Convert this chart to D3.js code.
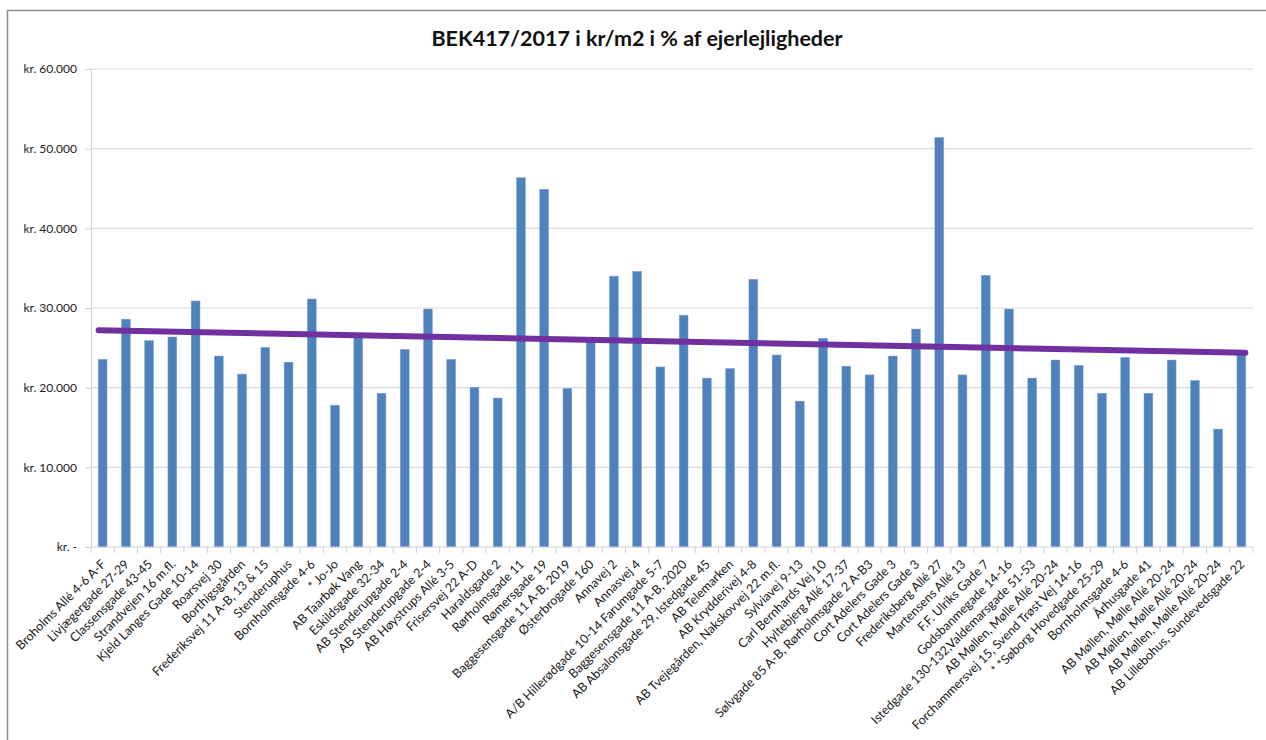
<!DOCTYPE html>
<html>
<head>
<meta charset="utf-8">
<script src="https://cdn.jsdelivr.net/npm/d3@7"></script>
<style>
  body { margin: 0; background: #fff; }
  svg { font-family: Lato, "Open Sans", sans-serif; }
</style>
</head>
<body>
<div id="graph"></div>
<script>
var labels = [
  "Broholms Allé 4-6 A-F", "Livjægergade 27-29", "Classensgade 43-45", "Strandvejen 16 m.fl.",
  "Kjeld Langes Gade 10-14", "Roarsvej 30", "Borthigsgården", "Frederiksvej 11 A-B, 13 & 15",
  "Stenderuphus", "Bornholmsgade 4-6", "* Jo-Jo", "AB Taarbøk Vang", "Eskildsgade 32-34",
  "AB Stenderupgade 2-4", "AB Stenderupgade 2-4", "AB Høystrups Allé 3-5", "Frisersvej 22 A-D",
  "Haraldsgade 2", "Rørholmsgade 11", "Rømersgade 19", "Baggesensgade 11 A-B, 2019",
  "Østerbrogade 160", "Annavej 2", "Annasvej 4", "A/B Hillerødgade 10-14 Farumgade 5-7",
  "Baggesensgade 11 A-B, 2020", "AB Absalonsgade 29, Istedgade 45", "AB Telemarken",
  "AB Krydderivej 4-8", "AB Tvejegården, Nakskovvej 22 m.fl.", "Sylviavej 9-13",
  "Carl Bernhards Vej 10", "Hyltebjerg Allé 17-37", "Sølvgade 85 A-B, Rørholmsgade 2 A-B3",
  "Cort Adelers Gade 3", "Cort Adelers Gade 3", "Frederiksberg Allé 27", "Martensens Allé 13",
  "F.F. Ulriks Gade 7", "Godsbanmegade 14-16", "Istedgade 130-132,Valdemarsgade 51-53",
  "AB Møllen, Mølle Allé 20-24", "Forchammersvej 15, Svend Trøst Vej 14-16",
  "* *Søborg Hovedgade 25-29", "Bornholmsgade 4-6", "Århusgade 41",
  "AB Møllen, Mølle Allé 20-24", "AB Møllen, Mølle Allé 20-24", "AB Møllen, Mølle Allé 20-24",
  "AB Lillebohus, Sundevedsgade 22"
];

var values = [
  23560, 28600, 25900, 26360, 30880, 23970, 21700, 25060, 23200, 31130,
  17800, 26400, 19300, 24800, 29870, 23560, 20040, 18700, 46350, 44900,
  19900, 25800, 34000, 34600, 22600, 29100, 21200, 22400, 33600, 24100,
  18300, 26200, 22700, 21600, 23970, 27360, 51400, 21600, 34100, 29870,
  21200, 23470, 22800, 19300, 23800, 19300, 23470, 20900, 14800, 24100
];

var yTicks = [0, 10000, 20000, 30000, 40000, 50000, 60000];
var title = "BEK417/2017 i kr/m2 i % af ejerlejligheder";

var w = 1266, h = 740;
var margin = {left: 91, right: 13, top: 69, bottom: 193};

var data = labels.map((l, i) => ({i: i, label: l, value: values[i]}));

var svg = d3.select('#graph')
  .append('svg')
  .attr("width", w)
  .attr("height", h);

// chart frame
svg.append("rect")
  .attr("x", 7.5).attr("y", 10.5)
  .attr("width", w + 20).attr("height", h + 20)
  .attr("fill", "none")
  .attr("stroke", "#8c8c8c")
  .attr("stroke-width", 1.5);

var x = d3.scaleBand()
  .domain(d3.range(data.length))
  .range([margin.left, w - margin.right])
  .paddingInner(0.62)
  .paddingOuter(0.31);

var y = d3.scaleLinear()
  .domain([0, 60000])
  .range([h - margin.bottom, margin.top]);

var fmt = d => d === 0 ? "kr. -" : "kr. " + d3.format(",")(d).replace(/,/g, ".");

// gridlines
svg.append("g")
  .selectAll("line")
  .data(yTicks.filter(d => d > 0))
  .enter().append("line")
  .attr("x1", margin.left).attr("x2", w - margin.right)
  .attr("y1", d => y(d)).attr("y2", d => y(d))
  .attr("stroke", "#d9d9d9")
  .attr("stroke-width", 1.2);

// y axis
var yAxis = svg.append("g")
  .attr("transform", `translate(${margin.left},0)`)
  .call(d3.axisLeft(y).tickValues(yTicks).tickFormat(fmt).tickSize(6).tickPadding(8));
yAxis.select(".domain").attr("stroke", "#d0d0d0");
yAxis.selectAll(".tick line").attr("stroke", "#d0d0d0");
yAxis.selectAll("text")
  .attr("font-size", 12)
  .attr("font-family", "Lato, 'Open Sans', sans-serif")
  .attr("fill", "#222");

// bars
svg.append("g")
  .selectAll("rect")
  .data(data)
  .enter().append("rect")
  .attr("x", d => x(d.i))
  .attr("y", d => y(d.value))
  .attr("width", x.bandwidth())
  .attr("height", d => y(0) - y(d.value))
  .attr("fill", "#4f81bd")
  .attr("stroke", "#7fa3d0")
  .attr("stroke-width", 0.5);

// x axis line with ticks between bars
var xg = svg.append("g");
xg.append("line")
  .attr("x1", margin.left).attr("x2", w - margin.right)
  .attr("y1", y(0)).attr("y2", y(0))
  .attr("stroke", "#d0d0d0");
xg.selectAll(".xt")
  .data(d3.range(data.length + 1))
  .enter().append("line")
  .attr("class", "xt")
  .attr("x1", d => margin.left + d * (w - margin.right - margin.left) / data.length)
  .attr("x2", d => margin.left + d * (w - margin.right - margin.left) / data.length)
  .attr("y1", y(0)).attr("y2", y(0) + 6)
  .attr("stroke", "#d0d0d0");

// rotated labels
xg.selectAll(".xl")
  .data(data)
  .enter().append("text")
  .attr("class", "xl")
  .attr("transform", d => `translate(${x(d.i) + x.bandwidth() / 2 + 4},${y(0) + 18}) rotate(-45)`)
  .attr("text-anchor", "end")
  .attr("font-size", 12.5)
  .attr("fill", "#1a1a1a")
  .text(d => d.label);

// linear trendline (least squares)
var n = data.length;
var mx = d3.mean(data, d => d.i), my = d3.mean(data, d => d.value);
var slope = d3.sum(data, d => (d.i - mx) * (d.value - my)) / d3.sum(data, d => (d.i - mx) * (d.i - mx));
var icpt = my - slope * mx;
var trend = [0, n - 1].map(i => [x(i) + x.bandwidth() / 2 - 4, y(icpt + slope * i)]);
trend[1][0] += 8;

svg.append("path")
  .attr("d", d3.line()(trend))
  .attr("stroke", "#7030a0")
  .attr("stroke-width", 6)
  .attr("stroke-linecap", "round")
  .attr("fill", "none");

// title
svg.append("text")
  .attr("x", 637).attr("y", 46)
  .attr("text-anchor", "middle")
  .attr("font-size", 21.5)
  .attr("font-weight", "bold")
  .attr("fill", "#111")
  .text(title);
</script>
</body>
</html>
